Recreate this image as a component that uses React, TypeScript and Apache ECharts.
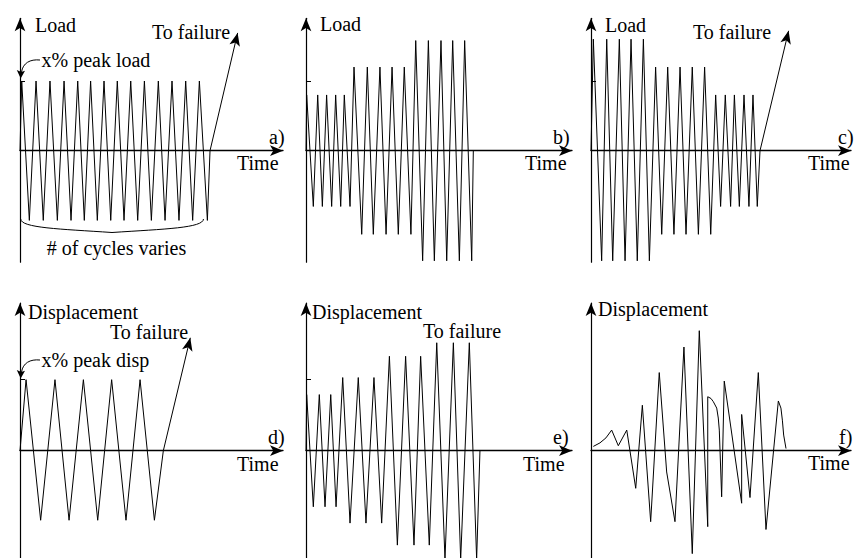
import { useEffect, useRef } from 'react';
import * as echarts from 'echarts';

// a) constant-amplitude load cycles, then ramp to failure
const loadATime = [0, 0.13, 0.71, 1.22, 1.77, 2.28, 2.84, 3.35, 3.88, 4.39, 4.89, 5.37, 5.88, 6.39, 6.9, 7.4, 7.91, 8.42, 8.95, 9.46, 9.99, 10.52, 11.03, 11.56, 12.09, 12.6, 13.13, 13.64, 14.25, 14.45, 16.55];
const loadAValue = [0, 1, -1, 1, -1, 1, -1, 1, -1, 1, -1, 1, -1, 1, -1, 1, -1, 1, -1, 1, -1, 1, -1, 1, -1, 1, -1, 1, -1, 0, 1.69];

// b) increasing load blocks
const loadBTime = [0, 0.05, 0.55, 0.88, 1.23, 1.55, 1.93, 2.23, 2.61, 2.88, 3.31, 3.61, 4.19, 4.61, 5.06, 5.56, 6.02, 6.47, 6.94, 7.39, 7.89, 8.25, 8.77, 9.2, 9.65, 10.15, 10.58, 11.03, 11.53, 11.93, 12.46, 12.58];
const loadBValue = [0, 0.8, -0.8, 0.8, -0.8, 0.8, -0.8, 0.8, -0.8, 0.8, -0.8, 1.2, -1.2, 1.2, -1.2, 1.2, -1.2, 1.2, -1.2, 1.2, -1.2, 1.58, -1.58, 1.58, -1.58, 1.58, -1.58, 1.58, -1.58, 1.58, -1.58, 0];

// c) decreasing load blocks, then ramp to failure
const loadCTime = [0, 0.18, 0.82, 1.21, 1.67, 2.18, 2.62, 3.08, 3.56, 4.03, 4.49, 4.97, 5.44, 5.9, 6.38, 6.85, 7.31, 7.79, 8.26, 8.74, 9.21, 9.59, 9.97, 10.33, 10.74, 11.03, 11.41, 11.77, 12.15, 12.46, 12.79, 13.0, 15.2];
const loadCValue = [0, 1.6, -1.58, 1.6, -1.58, 1.6, -1.58, 1.6, -1.58, 1.6, -1.58, 1.2, -1.2, 1.2, -1.2, 1.2, -1.2, 1.2, -1.2, 1.2, -1.2, 0.8, -0.8, 0.8, -0.8, 0.8, -0.8, 0.8, -0.8, 0.8, -0.8, 0, 1.72];

// d) constant-amplitude displacement cycles, then ramp to failure
const dispDTime = [0, 0.46, 1.57, 2.66, 3.73, 4.82, 5.91, 6.97, 8.06, 9.13, 10.22, 10.9, 12.95];
const dispDValue = [0, 1, -0.98, 1, -0.98, 1, -0.98, 1, -0.98, 1, -0.98, 0, 1.59];

// e) stepped displacement amplitudes
const dispETime = [0, 0.05, 0.55, 1.0, 1.43, 1.86, 2.26, 2.76, 3.31, 3.93, 4.51, 5.11, 5.69, 6.27, 6.87, 7.49, 8.12, 8.62, 9.27, 9.83, 10.45, 11.08, 11.63, 12.28, 12.83, 13.08];
const dispEValue = [0, 0.79, -0.79, 0.79, -0.79, 0.79, -0.79, 1.03, -1.02, 1.03, -1.02, 1.03, -1.02, 1.33, -1.33, 1.33, -1.33, 1.33, -1.33, 1.52, -1.53, 1.52, -1.53, 1.52, -1.53, 0];

// f) irregular (earthquake-like) displacement history
const dispFTime = [0.18, 0.69, 1.15, 1.59, 2.1, 2.75, 3.44, 3.95, 4.59, 5.25, 5.82, 6.46, 7.15, 7.79, 8.33, 8.98, 8.98, 9.23, 9.41, 9.67, 9.79, 9.87, 10.05, 10.25, 11.59, 11.59, 12.23, 12.87, 13.46, 14.41, 14.61, 14.72, 14.82, 15.0];
const dispFValue = [0.06, 0.11, 0.18, 0.29, 0.07, 0.29, -0.53, 0.64, -1.0, 1.1, -0.3, -1.0, 1.46, -1.45, 1.69, -1.07, 0.76, 0.735, 0.69, 0.6, 0.46, 0.29, -0.65, 0.98, -0.74, 0.51, -0.66, 1.1, -1.11, 0.7, 0.6, 0.43, 0.22, 0.03];

// reference level ("x% peak") marked on the vertical axes
const refLevel = 1;
const timeMax = 20;

const FONT_FAMILY = 'Liberation Serif';
const FONT_SIZE = 20;

const rows = [
  { top: 18.27, height: 243.95, min: -1.6, max: 1.9 },
  { top: 303.0, height: 255.6, min: -1.52, max: 2.08 },
];

const panels = [
  { left: 20, width: 263, row: 0, time: loadATime, value: loadAValue, failure: true, tick: true },
  { left: 306, width: 266, row: 0, time: loadBTime, value: loadBValue, failure: false, tick: true },
  { left: 591, width: 260, row: 0, time: loadCTime, value: loadCValue, failure: true, tick: true },
  { left: 20, width: 263, row: 1, time: dispDTime, value: dispDValue, failure: true, tick: true },
  { left: 306, width: 266, row: 1, time: dispETime, value: dispEValue, failure: false, tick: true },
  { left: 591, width: 260, row: 1, time: dispFTime, value: dispFValue, failure: false, tick: false },
];

const texts: [string, number, number, string?][] = [
  ['Load', 35, 25],
  ['x% peak load', 41.5, 60],
  ['To failure', 152, 32],
  ['a)', 269, 137],
  ['Time', 237, 163],
  ['# of cycles varies', 116.5, 248, 'center'],
  ['Load', 320, 24],
  ['b)', 553, 137],
  ['Time', 525, 163],
  ['Load', 605, 25],
  ['To failure', 693, 32],
  ['c)', 838, 137],
  ['Time', 808, 163],
  ['Displacement', 28, 311.7],
  ['To failure', 110, 331.7],
  ['x% peak disp', 41.5, 360],
  ['d)', 268, 436.7],
  ['Time', 237, 464],
  ['Displacement', 312, 311.7],
  ['To failure', 423, 330.7],
  ['e)', 553, 437],
  ['Time', 523, 464],
  ['Displacement', 598, 309.3],
  ['f)', 839, 436.7],
  ['Time', 808, 462.7],
];

function calloutArrow(dy: number): any[] {
  return [
    {
      type: 'bezierCurve',
      shape: { x1: 40, y1: 60 + dy, cpx1: 30, cpy1: 59 + dy, cpx2: 23, cpy2: 63 + dy, x2: 21.5, y2: 72 + dy },
      style: { stroke: '#000', fill: 'none', lineWidth: 1 },
      silent: true,
    },
    {
      type: 'polygon',
      shape: { points: [[20.7, 78.5 + dy], [16.8, 70 + dy], [21.2, 72 + dy], [25, 70.8 + dy]] },
      style: { fill: '#000' },
      silent: true,
    },
  ];
}

function buildSeriesData(p: typeof panels[number], rotate: number | null) {
  return p.time.map((t, j) => {
    const last = j === p.time.length - 1;
    if (p.failure && last) {
      return {
        value: [t, p.value[j]],
        symbol: 'arrow',
        symbolSize: [8, 13],
        symbolRotate: rotate ?? -13,
        itemStyle: { color: '#000' },
      };
    }
    return [t, p.value[j]];
  });
}

export default function App() {
  const ref = useRef<HTMLDivElement>(null);

  useEffect(() => {
    if (!ref.current) return;
    const chart = echarts.init(ref.current, null, { renderer: 'svg' });

    const graphic: any[] = [
      ...texts.map(([text, x, y, align]) => ({
        type: 'text',
        x,
        y,
        silent: true,
        style: {
          text,
          fontFamily: FONT_FAMILY,
          fontSize: FONT_SIZE,
          fill: '#000',
          align: align || 'left',
          verticalAlign: 'middle',
        },
      })),
      ...calloutArrow(0),
      ...calloutArrow(300),
      {
        type: 'bezierCurve',
        shape: { x1: 20.7, y1: 219, cpx1: 21, cpy1: 228, cpx2: 60, cpy2: 229, x2: 112, y2: 232.5 },
        style: { stroke: '#000', fill: 'none', lineWidth: 1 },
        silent: true,
      },
      {
        type: 'bezierCurve',
        shape: { x1: 112, y1: 232.5, cpx1: 165, cpy1: 229, cpx2: 203, cpy2: 228, x2: 203.5, y2: 219 },
        style: { stroke: '#000', fill: 'none', lineWidth: 1 },
        silent: true,
      },
    ];

    const option: any = {
      animation: false,
      backgroundColor: '#fff',
      textStyle: { fontFamily: FONT_FAMILY },
      grid: panels.map((p) => ({
        left: p.left,
        width: p.width,
        top: rows[p.row].top,
        height: rows[p.row].height,
        containLabel: false,
        outerBoundsMode: 'none',
      })),
      xAxis: panels.map((p, i) => ({
        type: 'value',
        gridIndex: i,
        min: 0,
        max: timeMax,
        axisLine: {
          show: true,
          onZero: true,
          symbol: ['none', 'arrow'],
          symbolSize: [8, 13],
          lineStyle: { color: '#000', width: 1.3 },
        },
        axisTick: { show: false },
        axisLabel: { show: false },
        splitLine: { show: false },
      })),
      yAxis: panels.map((p, i) => ({
        type: 'value',
        gridIndex: i,
        min: rows[p.row].min,
        max: rows[p.row].max,
        axisLine: {
          show: true,
          symbol: ['none', 'arrow'],
          symbolSize: [8, 13],
          lineStyle: { color: '#000', width: 1.2 },
        },
        axisTick: p.tick
          ? { show: true, inside: true, length: 5, customValues: [refLevel], lineStyle: { color: '#000', width: 1 } }
          : { show: false },
        axisLabel: { show: false },
        splitLine: { show: false },
      })),
      series: panels.map((p, i) => ({
        type: 'line',
        xAxisIndex: i,
        yAxisIndex: i,
        symbol: 'none',
        showSymbol: true,
        silent: true,
        lineStyle: { color: '#000', width: 1 },
        data: buildSeriesData(p, null),
      })),
      graphic,
    };

    chart.setOption(option);

    // orient each "to failure" arrowhead along its final segment
    const series = panels.map((p, i) => {
      if (!p.failure) return { data: buildSeriesData(p, null) };
      const n = p.time.length;
      const a = chart.convertToPixel({ gridIndex: i } as any, [p.time[n - 2], p.value[n - 2]]) as number[];
      const b = chart.convertToPixel({ gridIndex: i } as any, [p.time[n - 1], p.value[n - 1]]) as number[];
      const deg = (Math.atan2(b[0] - a[0], a[1] - b[1]) * 180) / Math.PI;
      return { data: buildSeriesData(p, -deg) };
    });
    chart.setOption({ series });

    return () => chart.dispose();
  }, []);

  return (
    <div
      ref={ref}
      style={{ position: 'fixed', left: 0, top: 0, width: 858, height: 558, background: '#fff' }}
    />
  );
}
